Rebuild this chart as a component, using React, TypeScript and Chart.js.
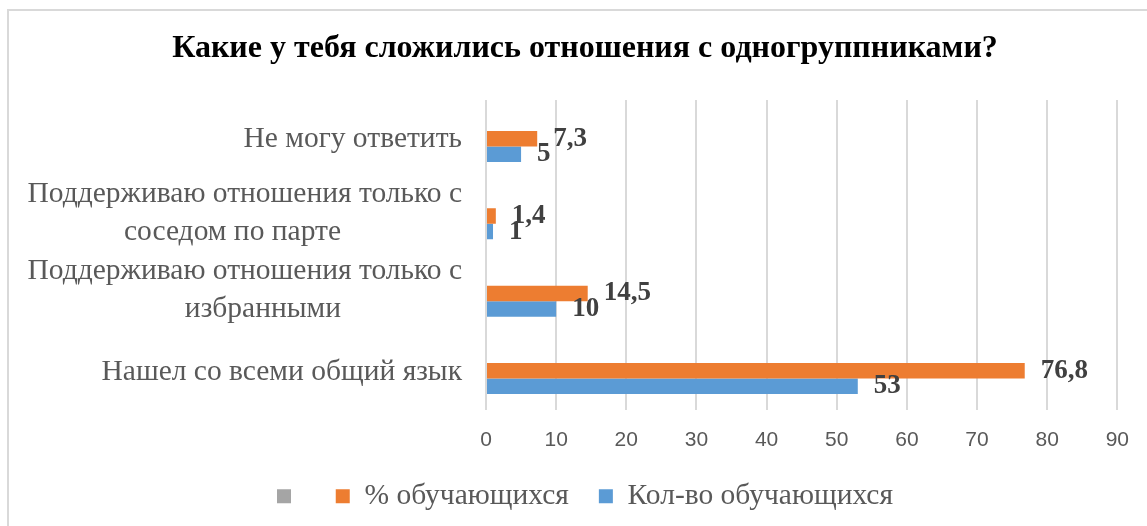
import React, { useEffect, useRef } from "react";
import { Chart, registerables } from "chart.js";

Chart.register(...registerables);

const titleText = "Какие у тебя сложились отношения с одногруппниками?";
const categories: string[][] = [
  ["Не могу ответить"],
  ["Поддерживаю отношения только с", "соседом по парте"],
  ["Поддерживаю отношения только с", "избранными"],
  ["Нашел со всеми общий язык"],
];
const seriesNames = ["", "% обучающихся", "Кол-во обучающихся"];
const emptySeries: (number | null)[] = [null, null, null, null];
const percentValues = [7.3, 1.4, 14.5, 76.8];
const countValues = [5, 1, 10, 53];
const xMin = 0;
const xMax = 90;
const xStep = 10;

const SERIF = "'Liberation Serif', 'Times New Roman', serif";
const SANS = "'Liberation Sans', Arial, sans-serif";

const labelsPlugin = {
  id: "customLabels",
  afterDatasetsDraw(chart: any) {
    const ctx = chart.ctx;
    ctx.save();
    ctx.font = `bold 27px ${SERIF}`;
    ctx.fillStyle = "#404040";
    ctx.textAlign = "left";
    ctx.textBaseline = "middle";
    chart.data.datasets.forEach((ds: any, di: number) => {
      const meta = chart.getDatasetMeta(di);
      meta.data.forEach((el: any, i: number) => {
        const v = ds.data[i];
        if (v === null || v === undefined) return;
        const txt = String(v).replace(".", ",");
        ctx.fillText(txt, el.x + 16, el.y);
      });
    });
    ctx.restore();
  },
  afterDraw(chart: any) {
    const ctx = chart.ctx;
    const yScale = chart.scales.y;
    const left = chart.chartArea.left;
    ctx.save();
    ctx.font = `29.5px ${SERIF}`;
    ctx.fillStyle = "#595959";
    ctx.textAlign = "right";
    ctx.textBaseline = "middle";
    const lh = 37.5;
    const labels = yScale.getLabels();
    labels.forEach((lab: string[], i: number) => {
      const cy = yScale.getPixelForValue(i);
      const n = lab.length;
      const off = n > 1 ? -3 : 1;
      lab.forEach((line: string, k: number) => {
        const y = cy + off + (k - (n - 1) / 2) * lh;
        const x = k === 0 ? left - 24 : left - 145;
        ctx.fillText(line, x, y);
      });
    });
    ctx.restore();
  },
};

export default function App() {
  const ref = useRef<HTMLCanvasElement>(null);
  useEffect(() => {
    if (!ref.current) return;
    const chart = new Chart(ref.current, {
      type: "bar",
      data: {
        labels: categories as any,
        datasets: [
          {
            label: seriesNames[0],
            data: emptySeries,
            backgroundColor: "#A5A5A5",
            barPercentage: 1,
            categoryPercentage: 0.6,
          },
          {
            label: seriesNames[1],
            data: percentValues,
            backgroundColor: "#ED7D31",
            barPercentage: 1,
            categoryPercentage: 0.6,
          },
          {
            label: seriesNames[2],
            data: countValues,
            backgroundColor: "#5B9BD5",
            barPercentage: 1,
            categoryPercentage: 0.6,
          },
        ],
      },
      options: {
        indexAxis: "y",
        responsive: false,
        animation: false,
        devicePixelRatio: 1,
        layout: { padding: { left: 40, right: 26, top: 0, bottom: 5 } },
        scales: {
          x: {
            type: "linear",
            min: xMin,
            max: xMax,
            ticks: {
              stepSize: xStep,
              font: { family: SANS, size: 21 },
              color: "#595959",
              padding: 18,
            },
            grid: { color: "#d9d9d9", lineWidth: 2, drawTicks: false },
            border: { display: false },
            afterFit: (s: any) => {
              s.height = 42;
            },
          },
          y: {
            type: "category",
            ticks: { display: false },
            grid: { display: false },
            border: { display: false },
            afterFit: (s: any) => {
              s.width = 437;
            },
          },
        },
        plugins: {
          title: {
            display: true,
            text: titleText,
            color: "#000000",
            font: { family: SERIF, size: 32, weight: "bold" },
            padding: { top: 18.8, bottom: 31.8 },
          },
          legend: {
            position: "bottom",
            labels: {
              font: { family: SERIF, size: 29.5 },
              color: "#595959",
              boxWidth: 14,
              boxHeight: 14,
              padding: 30,
            },
          },
          tooltip: { enabled: false },
        },
      },
      plugins: [labelsPlugin],
    } as any);
    return () => chart.destroy();
  }, []);
  return (
    <div
      style={{
        position: "absolute",
        left: 7,
        top: 9,
        width: 1140,
        height: 517,
        boxSizing: "border-box",
        borderTop: "2px solid #d9d9d9",
        borderLeft: "2px solid #d9d9d9",
        background: "#fff",
      }}
    >
      <canvas ref={ref} width={1138} height={515} style={{ display: "block", width: 1138, height: 515 }} />
    </div>
  );
}
